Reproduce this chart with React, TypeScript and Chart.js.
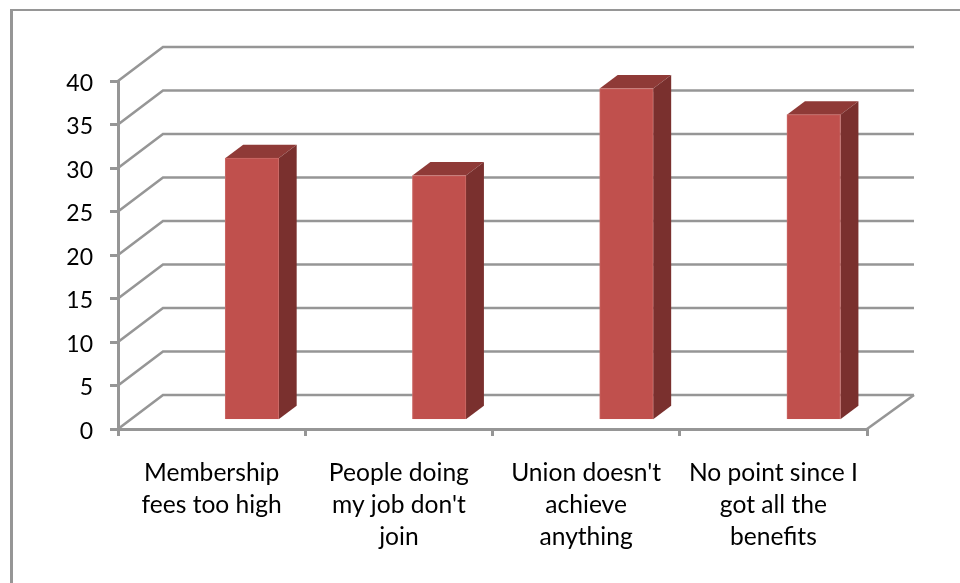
import { useEffect, useRef } from "react";
import { Chart, registerables } from "chart.js";

Chart.register(...registerables);

const categories: string[][] = [
  ["Membership", "fees too high"],
  ["People doing", "my job don't", "join"],
  ["Union doesn't", "achieve", "anything"],
  ["No point since I", "got all the", "benefits"],
];
const responses: number[] = [30, 28, 38, 35];

const GRID_GREY = "#969696";
const FRONT_RED = "#C0504D";
const FRONT_EDGE = "#CB6A67";
const TOP_RED = "#8F3A37";
const SIDE_RED = "#7A302E";
const FONT = "Lato";

// Oblique projection: how far the back wall sits from the front plane,
// where the bars stand relative to it, and how deep each bar is.
const WALL_DX = 45;
const WALL_DY = -34;
const BAR_SHIFT_X = 40.3;
const BAR_SHIFT_Y = -9.8;
const BAR_DEPTH_X = 18;
const BAR_DEPTH_Y = -13.5;

const polygon = (ctx: CanvasRenderingContext2D, pts: number[][], fill: string) => {
  ctx.beginPath();
  pts.forEach(([x, y], i) => (i ? ctx.lineTo(x, y) : ctx.moveTo(x, y)));
  ctx.closePath();
  ctx.fillStyle = fill;
  ctx.fill();
};

const obliquePlugin = {
  id: "oblique",
  beforeDatasetsDraw(chart: any) {
    const { ctx, chartArea, scales } = chart;
    const { left, right, bottom } = chartArea;
    ctx.save();
    ctx.strokeStyle = GRID_GREY;
    ctx.lineWidth = 2.6;
    scales.y.ticks.forEach((tick: any) => {
      const y = scales.y.getPixelForValue(tick.value);
      ctx.beginPath();
      ctx.moveTo(left, y);
      ctx.lineTo(left + WALL_DX, y + WALL_DY);
      ctx.lineTo(right + WALL_DX + 2, y + WALL_DY);
      ctx.stroke();
    });
    ctx.beginPath();
    ctx.moveTo(right, bottom);
    ctx.lineTo(right + WALL_DX + 2, bottom + WALL_DY);
    ctx.stroke();
    ctx.restore();

    // Faces of each bar that the bar element itself does not paint.
    ctx.save();
    ctx.translate(BAR_SHIFT_X, BAR_SHIFT_Y);
    chart.getDatasetMeta(0).data.forEach((bar: any) => {
      const x0 = bar.x - bar.width / 2;
      const x1 = bar.x + bar.width / 2;
      polygon(ctx, [
        [x0, bar.y],
        [x0 + BAR_DEPTH_X, bar.y + BAR_DEPTH_Y],
        [x1 + BAR_DEPTH_X, bar.y + BAR_DEPTH_Y],
        [x1, bar.y],
      ], TOP_RED);
      polygon(ctx, [
        [x1, bar.y],
        [x1 + BAR_DEPTH_X, bar.y + BAR_DEPTH_Y],
        [x1 + BAR_DEPTH_X, bar.base + BAR_DEPTH_Y],
        [x1, bar.base],
      ], SIDE_RED);
    });
    ctx.restore();

    // The front faces are drawn by the chart inside this shifted frame.
    ctx.save();
    ctx.translate(BAR_SHIFT_X, BAR_SHIFT_Y);
  },
  afterDatasetsDraw(chart: any) {
    chart.ctx.restore();
  },
};

export default function App() {
  const canvasRef = useRef<HTMLCanvasElement>(null);

  useEffect(() => {
    const chart = new Chart(canvasRef.current!, {
      type: "bar",
      data: {
        labels: categories,
        datasets: [
          {
            label: "Responses",
            data: responses,
            backgroundColor: FRONT_RED,
            borderColor: FRONT_EDGE,
            borderWidth: 1,
            barThickness: 53.5,
            // Not a tick value, so the bars run to the floor without the
            // half-gridline inset the bar controller applies at a tick.
            base: -0.001,
          },
        ],
      },
      plugins: [obliquePlugin],
      options: {
        animation: false,
        responsive: false,
        layout: { padding: { top: 81, right: 93, left: 0, bottom: 0 } },
        plugins: { legend: { display: false }, tooltip: { enabled: false } },
        scales: {
          x: {
            afterFit: (scale: any) => {
              scale.height = 154;
            },
            grid: {
              offset: true,
              drawOnChartArea: false,
              color: GRID_GREY,
              lineWidth: 3,
              tickLength: 7,
            },
            border: { color: GRID_GREY, width: 3 },
            ticks: {
              color: "#000000",
              padding: 21,
              maxRotation: 0,
              autoSkip: false,
              font: { family: FONT, size: 24.6, lineHeight: 32 / 24.6 },
            },
          },
          y: {
            min: 0,
            max: 40,
            afterFit: (scale: any) => {
              scale.width = 118;
            },
            grid: {
              drawOnChartArea: false,
              color: GRID_GREY,
              lineWidth: 3,
              tickLength: 8,
            },
            border: { color: GRID_GREY, width: 3 },
            ticks: {
              stepSize: 5,
              color: "#000000",
              padding: 17,
              labelOffset: 2.5,
              font: { family: FONT, size: 23 },
            },
          },
        },
      },
    });
    return () => chart.destroy();
  }, []);

  return (
    <div style={{ position: "absolute", left: 0, top: 0, width: 960, height: 583, background: "#fff", overflow: "hidden" }}>
      <div style={{ position: "absolute", left: 10, top: 9, width: 950, height: 574, borderLeft: `3px solid ${GRID_GREY}`, borderTop: `2px solid ${GRID_GREY}`, boxSizing: "border-box" }} />
      <canvas ref={canvasRef} width={960} height={583} style={{ position: "absolute", left: 0, top: 0, display: "block" }} />
    </div>
  );
}
